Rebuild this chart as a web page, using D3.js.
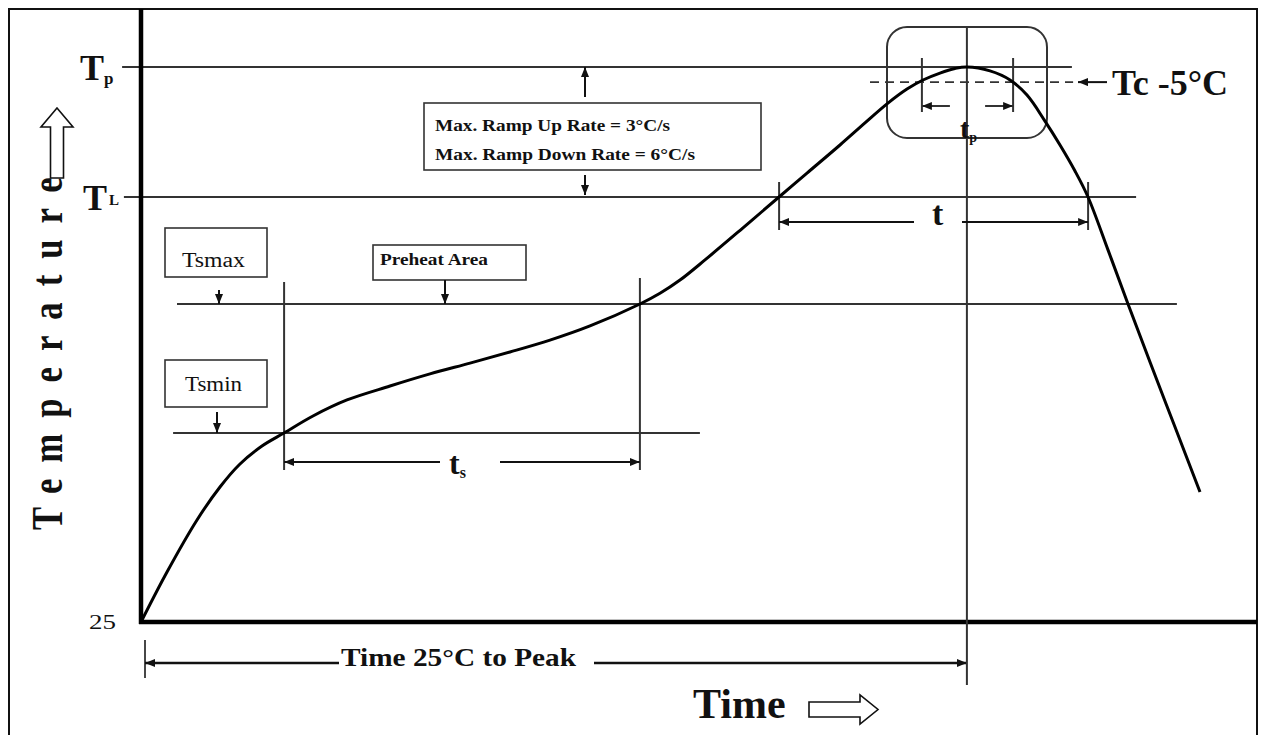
<!DOCTYPE html>
<html>
<head>
<meta charset="utf-8">
<script src="https://cdn.jsdelivr.net/npm/d3@7"></script>
<style>
  html, body { margin: 0; padding: 0; background: #fff; }
  svg { display: block; }
  text { font-family: "Liberation Serif", "Times New Roman", Times, serif; fill: #111; }
</style>
</head>
<body>
<svg id="chart" width="1261" height="735"></svg>
<script>
// ---- Reflow profile (schematic): time in s, temperature in °C ----
const profileTime = [0, 8.67, 18.67, 26.33, 33, 40.33, 47.67, 57.33, 68.67, 83, 96.33,
  109.67, 123, 136.33, 149.67, 166.33, 173, 179.67, 188, 200.67, 212.67, 222, 233, 241.33,
  248.67, 255.33, 260.67, 266.33, 271.33, 275.33, 283, 289.67, 295.33, 301.33, 306.33,
  311.33, 315.67, 322.33, 329, 336.33, 344.67, 353];
const profileTemp = [25, 58.1, 92.5, 114.3, 129.5, 141.4, 150, 156.6, 162.8, 168.2, 172.9,
  177.1, 181.4, 186, 191.5, 200, 201.7, 203.8, 207, 212.1, 217, 224.9, 234.2, 241.5,
  247.8, 252.7, 255.7, 258, 259.5, 260, 258.7, 255.7, 250.7, 242.1, 234.2,
  225.6, 217, 208.6, 200, 177.5, 152.3, 111];

// Temperature levels (°C)
const levelNames = ["Tsmin", "Tsmax", "TL", "Tc-5", "Tp"];
const levelTemps = [150, 200, 217, 255, 260];
const startTemp = 25;

// Key times (s)
const keyTimeNames = ["tsStart", "tsEnd", "tLStart", "tpStart", "peak", "tpEnd", "tLEnd"];
const keyTimes = [47.7, 166.3, 212.7, 260.3, 275.3, 290.7, 315.7];

// Text notes
const rampNotes = ["Max. Ramp Up Rate = 3°C/s", "Max. Ramp Down Rate = 6°C/s"];
const yTickLabels = ["25"];

const T = Object.fromEntries(levelNames.map((n, i) => [n, levelTemps[i]]));
const K = Object.fromEntries(keyTimeNames.map((n, i) => [n, keyTimes[i]]));

const svg = d3.select("#chart");

// Scales: time is linear; the temperature axis is schematic, so each band
// between marked levels gets its own linear segment.
const x = d3.scaleLinear().domain([0, 370]).range([141, 1251]);
const y = d3.scaleLinear()
  .domain([startTemp, T.Tsmin, T.Tsmax, T.TL, T.Tp])
  .range([622, 433, 304, 197, 67]);

// Arrow heads
const defs = svg.append("defs");
defs.append("marker")
  .attr("id", "ah").attr("viewBox", "0 0 10 8").attr("refX", 10).attr("refY", 4)
  .attr("markerWidth", 10).attr("markerHeight", 8)
  .attr("markerUnits", "userSpaceOnUse").attr("orient", "auto")
  .append("path").attr("d", "M0,0L10,4L0,8Z").attr("fill", "#111");

// Outer frame
svg.append("rect")
  .attr("x", 9).attr("y", 9).attr("width", 1248).attr("height", 740)
  .attr("fill", "none").attr("stroke", "#111").attr("stroke-width", 2);

const thin = "#333";
function line(x1, y1, x2, y2, opts = {}) {
  const l = svg.append("line")
    .attr("x1", x1).attr("y1", y1).attr("x2", x2).attr("y2", y2)
    .attr("stroke", opts.color || thin)
    .attr("stroke-width", opts.width || 2);
  if (opts.arrow) l.attr("marker-end", "url(#ah)");
  if (opts.dash) l.attr("stroke-dasharray", opts.dash);
  return l;
}

// ---- Level lines ----
const levelSpans = {
  Tp: [-6.3, 310.3],
  TL: [-5.7, 331.7],
  Tsmax: [12, 345.3],
  Tsmin: [10.7, 186.3]
};
Object.entries(levelSpans).forEach(([name, [a, b]]) => {
  line(x(a), y(T[name]), x(b), y(T[name]));
});
// Tc - 5 °C, dashed
line(x(243), y(T["Tc-5"]), x(310.7), y(T["Tc-5"]), { dash: "9,6", width: 1.8 });

// ---- Axes ----
// y axis tick "25"
const yAxis = d3.axisLeft(y).tickValues([startTemp]).tickFormat((d, i) => yTickLabels[i])
  .tickSize(0).tickPadding(25);
const gy = svg.append("g").attr("transform", `translate(${x(0)},0)`).call(yAxis);
gy.select(".domain").remove();
gy.selectAll("text")
  .attr("font-size", 20).attr("font-family", null).attr("fill", "#111")
  .attr("textLength", 27).attr("lengthAdjust", "spacingAndGlyphs");

// thick axis lines
line(x(0), y(startTemp) + 2, x(0), 9, { color: "#000", width: 4.5 });
line(x(0) - 2, y(startTemp), 1257, y(startTemp), { color: "#000", width: 4.5 });

// Level labels
const tpLab = svg.append("text").attr("x", 80).attr("y", y(T.Tp) + 13)
  .attr("font-size", 36).attr("font-weight", "bold").text("T");
tpLab.append("tspan").attr("font-size", 17).attr("dy", 4).text("p");

const tlLab = svg.append("text").attr("x", 83).attr("y", y(T.TL) + 13)
  .attr("font-size", 36).attr("font-weight", "bold").text("T");
tlLab.append("tspan").attr("font-size", 15).attr("dx", 2).attr("dy", -5).text("L");

// Axis titles
svg.append("text")
  .attr("transform", "translate(62,530) rotate(-90) scale(0.77,1)")
  .attr("font-size", 45).attr("font-weight", "bold")
  .attr("textLength", 458).attr("lengthAdjust", "spacing")
  .text("Temperature");
svg.append("path")
  .attr("d", "M57,108L73,127L63.5,127L63.5,178L50.5,178L50.5,127L41,127Z")
  .attr("fill", "#fff").attr("stroke", "#111").attr("stroke-width", 1.6);

svg.append("text").attr("x", 693).attr("y", 718)
  .attr("font-size", 42).attr("font-weight", "bold").text("Time");
svg.append("path")
  .attr("d", "M809,702L860,702L860,695L878,709.5L860,724L860,717L809,717Z")
  .attr("fill", "#fff").attr("stroke", "#111").attr("stroke-width", 1.6);

// ---- Time 25 °C to peak ----
const tY = 663;
line(x(0) + 4, 640, x(0) + 4, 678, { width: 1.8 });
line(339, tY, x(0) + 4, tY, { arrow: true, width: 2.6, color: "#111" });
line(594, tY, x(K.peak), tY, { arrow: true, width: 2.6, color: "#111" });
svg.append("text").attr("x", 341).attr("y", tY + 3)
  .attr("font-size", 26).attr("font-weight", "bold")
  .attr("textLength", 235).attr("lengthAdjust", "spacingAndGlyphs")
  .text("Time 25°C to Peak");

// ---- Peak marker ----
line(x(K.peak), 27, x(K.peak), 685);
svg.append("rect")
  .attr("x", 887).attr("y", 27).attr("width", 160).attr("height", 111)
  .attr("rx", 20).attr("ry", 20)
  .attr("fill", "none").attr("stroke", thin).attr("stroke-width", 2);

// tp window
[K.tpStart, K.tpEnd].forEach(t => line(x(t), 58, x(t), 112));
line(x(K.tpStart) + 28, 106, x(K.tpStart), 106, { arrow: true });
line(x(K.tpEnd) - 28, 106, x(K.tpEnd), 106, { arrow: true });
const tpT = svg.append("text").attr("x", 960).attr("y", 138)
  .attr("font-size", 28).attr("font-weight", "bold").text("t");
tpT.append("tspan").attr("font-size", 14).attr("dy", 4).text("p");

// Tc - 5 °C label
line(1107, y(T["Tc-5"]), 1078, y(T["Tc-5"]), { arrow: true, color: "#111" });
svg.append("text").attr("x", 1112).attr("y", 95)
  .attr("font-size", 36).attr("font-weight", "bold").text("Tc -5°C");

// ---- Time above liquidus ----
const tlY = 222;
[K.tLStart, K.tLEnd].forEach(t => line(x(t), 182, x(t), 230));
line(914, tlY, x(K.tLStart), tlY, { arrow: true, color: "#111", width: 2.2 });
line(962, tlY, x(K.tLEnd), tlY, { arrow: true, color: "#111", width: 2.2 });
svg.append("text").attr("x", 932).attr("y", 225)
  .attr("font-size", 34).attr("font-weight", "bold").text("t");

// ---- Ramp rate note ----
svg.append("rect").attr("x", 424).attr("y", 103).attr("width", 337).attr("height", 67)
  .attr("fill", "#fff").attr("stroke", thin).attr("stroke-width", 1.6);
line(585, 97, 585, y(T.Tp), { arrow: true, color: "#111" });
line(585, 175, 585, y(T.TL) - 2, { arrow: true, color: "#111" });
const rampWidths = [235, 260];
rampNotes.forEach((s, i) => {
  svg.append("text").attr("x", 435).attr("y", 131 + i * 29)
    .attr("font-size", 16).attr("font-weight", "bold")
    .attr("textLength", rampWidths[i]).attr("lengthAdjust", "spacingAndGlyphs")
    .text(s);
});

// ---- Soak zone ----
[[K.tsStart, 282], [K.tsEnd, 278]].forEach(([t, top]) => line(x(t), top, x(t), 470));
const tsY = 462;
line(440, tsY, x(K.tsStart), tsY, { arrow: true, color: "#111", width: 2.2 });
line(500, tsY, x(K.tsEnd), tsY, { arrow: true, color: "#111", width: 2.2 });
const tsT = svg.append("text").attr("x", 449).attr("y", 474)
  .attr("font-size", 32).attr("font-weight", "bold").text("t");
tsT.append("tspan").attr("font-size", 16).attr("dy", 4).text("s");

// Tsmax / Tsmin / Preheat notes
function noteBox(bx, by, bw, bh, label, tx, ty, fs, tw, bold) {
  svg.append("rect").attr("x", bx).attr("y", by).attr("width", bw).attr("height", bh)
    .attr("fill", "#fff").attr("stroke", thin).attr("stroke-width", 1.6);
  svg.append("text").attr("x", tx).attr("y", ty)
    .attr("font-size", fs).attr("font-weight", bold ? "bold" : "normal")
    .attr("textLength", tw).attr("lengthAdjust", "spacingAndGlyphs")
    .text(label);
}
noteBox(165, 228, 102, 49, "Tsmax", 182, 267, 20, 63, false);
line(219, 290, 219, y(T.Tsmax), { arrow: true, color: "#111" });
noteBox(165, 360, 102, 47, "Tsmin", 185, 391, 20, 57, false);
line(217, 412, 217, y(T.Tsmin), { arrow: true, color: "#111" });
noteBox(373, 245, 153, 35, "Preheat Area", 380, 265, 17, 108, true);
line(445, 280, 445, y(T.Tsmax), { arrow: true, color: "#111" });

// ---- Profile curve ----
const pts = profileTime.map((t, i) => [t, profileTemp[i]]);
svg.append("path")
  .datum(pts)
  .attr("fill", "none").attr("stroke", "#000").attr("stroke-width", 3)
  .attr("stroke-linejoin", "round")
  .attr("d", d3.line().x(d => x(d[0])).y(d => y(d[1])).curve(d3.curveCatmullRom.alpha(0.5)));
</script>
</body>
</html>
